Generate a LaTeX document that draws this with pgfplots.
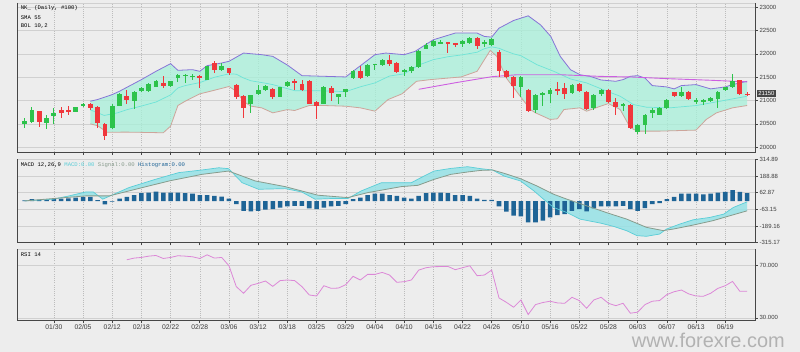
\documentclass[border=0pt]{standalone}
\usepackage{fontspec}
\setmainfont{Liberation Sans}
\newfontfamily\monofont{Liberation Mono}
\usepackage{pgfplots}
\pgfplotsset{compat=1.18}
\usepackage{pgfplotstable}
\usepgfplotslibrary{fillbetween}

\definecolor{bgc}{RGB}{237,237,237}
\definecolor{gridc}{RGB}{208,208,208}
\definecolor{vgridc}{RGB}{188,188,188}
\definecolor{axc}{RGB}{70,70,70}
\definecolor{cgreen}{RGB}{45,195,75}
\definecolor{cred}{RGB}{240,55,60}
\definecolor{bandfill}{RGB}{167,241,217}
\definecolor{upc}{RGB}{135,115,215}
\definecolor{loc}{RGB}{205,165,155}
\definecolor{midc}{RGB}{110,228,215}
\definecolor{smac}{RGB}{205,95,225}
\definecolor{macdc}{RGB}{90,205,215}
\definecolor{macdfill}{RGB}{150,226,230}
\definecolor{sigc}{RGB}{135,155,140}
\definecolor{histc}{RGB}{30,100,150}
\definecolor{rsic}{RGB}{220,135,215}
\definecolor{lblc}{RGB}{60,60,60}
\definecolor{wmc}{RGB}{178,178,178}

\pgfplotstableread{
i o h l c
0 20500 20615 20415 20570
1 20536 20864 20522 20793
3 20515 20700 20380 20615
4 20665 20843 20487 20736
7 20750 20860 20745 20857
8 20878 20940 20870 20935
12 20416 20915 20400 20893
13 20893 21163 20880 21142
15 21000 21200 20820 21185
16 21200 21290 21180 21270
17 21200 21370 21190 21356
18 21290 21430 21280 21412
20 21306 21425 21300 21412
21 21483 21576 21400 21555
22 21520 21576 21380 21555
23 21505 21576 21450 21533
25 21448 21747 21430 21733
27 21647 21804 21626 21733
31 20936 21128 20736 21128
32 21150 21341 21128 21220
33 21228 21340 21200 21320
35 21085 21290 21080 21285
36 21320 21410 21300 21391
41 20935 21320 20915 21292
43 21085 21150 20935 21142
44 21178 21250 21085 21242
45 21483 21661 21462 21626
47 21519 21783 21500 21761
48 21761 21790 21661 21783
49 21761 21890 21747 21868
52 21604 21676 21533 21661
53 21626 21733 21600 21711
54 21711 22075 21697 22053
55 22110 22238 22100 22181
56 22160 22300 22140 22270
57 22224 22300 22210 22252
60 22217 22300 22150 22280
61 22238 22360 22220 22340
63 22230 22300 22150 22250
64 22180 22340 22160 22324
68 21285 21520 21085 21505
70 20807 21142 20736 21127
71 21135 21177 20878 21163
72 21149 21270 20949 21234
75 21163 21362 21149 21341
78 20843 21142 20807 21127
79 21149 21249 21092 21220
82 20892 20950 20786 20928
84 20330 20487 20273 20465
85 20465 20714 20273 20700
86 20736 20843 20629 20786
87 20700 20864 20679 20843
88 20843 21042 20821 21021
90 21092 21291 21078 21177
92 20985 21056 20928 21006
93 20978 21042 20914 21006
94 20985 21070 20964 21056
95 21042 21199 20843 21184
96 21234 21291 21213 21284
97 21291 21576 21270 21412
}\greentab

\pgfplotstableread{
i o h l c
2 20771 20780 20430 20536
5 20786 20864 20615 20736
6 20793 20878 20680 20757
9 20928 20950 20800 20843
10 20864 20893 20416 20508
11 20500 20522 20160 20250
14 21092 21220 20920 21021
19 21377 21520 21270 21306
24 21533 21540 21270 21483
26 21804 21854 21590 21661
28 21690 21700 21548 21590
29 21341 21363 21043 21078
30 21107 21128 20630 20843
34 21249 21263 21035 21071
37 21420 21462 21220 21377
38 21363 21448 21200 21220
39 21412 21448 20915 20935
40 20963 21000 20600 20893
42 21270 21320 21000 21163
46 21626 21733 21462 21483
50 21868 21975 21747 21783
51 21804 21818 21590 21604
58 22250 22260 22010 22230
59 22238 22240 22150 22188
62 22338 22360 22100 22160
65 22046 22080 21500 21640
66 21626 21650 21480 21505
67 21505 21520 21050 21306
69 21234 21248 20757 20771
73 21256 21391 21127 21199
74 21270 21377 21035 21142
76 21362 21377 21177 21199
77 21177 21199 20793 20821
80 21220 21249 20950 20964
81 20971 21056 20700 20864
83 20914 20928 20380 20415
89 21177 21184 21071 21092
91 21177 21199 21021 21035
98 21448 21448 21127 21142
99 21149 21177 21092 21127
}\redtab

\pgfplotstableread{
i v
0 5
1 14
2 9
3 9
4 14
5 19
6 21
7 26
8 31
9 31
10 6
11 -26
12 -4
13 19
14 31
15 44
16 59
17 64
18 72
19 64
20 64
21 64
22 59
23 56
24 44
25 44
26 39
27 34
28 19
29 -24
30 -74
31 -79
32 -74
33 -66
34 -61
35 -49
36 -41
37 -36
38 -36
39 -56
40 -61
41 -49
42 -41
43 -36
44 -24
45 14
46 26
47 44
48 56
49 56
50 44
51 39
52 26
53 19
54 39
55 59
56 64
57 64
58 59
59 44
60 44
61 39
62 19
63 9
64 9
65 -41
66 -81
67 -111
68 -116
69 -161
70 -161
71 -149
72 -124
73 -106
74 -99
75 -74
76 -61
77 -79
78 -56
79 -41
80 -41
81 -41
82 -36
83 -61
84 -74
85 -54
86 -24
87 -16
88 14
89 31
90 56
91 56
92 56
93 51
94 56
95 64
96 69
97 82
98 69
99 59
}\histtab

\pgfplotstableread{
i v
14 74.6
15 75.9
16 76.4
17 77.4
18 77.9
19 75.6
20 76.4
21 77.7
22 77.4
23 76.9
24 75.6
25 78.4
26 75.9
27 76.4
28 70.0
29 54.0
30 48.9
31 55.0
32 56.5
33 58.3
34 54.2
35 58.6
36 59.1
37 58.6
38 54.0
39 47.6
40 46.8
41 54.7
42 52.7
43 52.9
44 55.5
45 61.9
46 59.1
47 63.4
48 63.4
49 64.9
50 62.9
51 57.3
52 57.8
53 59.1
54 66.7
55 68.5
56 69.3
57 69.4
58 69.5
59 67.0
60 68.5
61 70.0
62 62.4
63 62.9
64 66.7
65 45.3
66 42.0
67 38.2
68 43.8
69 32.6
70 40.2
71 41.8
72 42.8
73 41.5
74 41.2
75 45.8
76 43.3
77 37.4
78 43.8
79 45.8
80 41.2
81 39.4
82 41.2
83 33.6
84 34.4
85 40.2
86 42.8
87 43.3
88 47.9
89 50.1
90 51.4
91 48.4
92 46.8
93 46.6
94 48.9
95 52.7
96 54.7
97 58.0
98 50.4
99 50.4
}\rsitab

\pgfplotsset{
  panel/.style={
    scale only axis, width=740bp,
    xmin=-0.95, xmax=100.1,
    anchor=south west,
    axis line style={draw=none},
    scaled y ticks=false,
    xtick={4,8,...,96},
    xticklabels={},
    xmajorgrids, ymajorgrids,
    x grid style={vgridc, dash pattern=on 1bp off 1.2bp, line width=0.45bp},
    y grid style={gridc, line width=0.6bp},
    tick align=outside,
    major tick length=2.8bp,
    xtick pos=left, ytick pos=right,
    tick style={axc, line width=0.6bp},
    yticklabel style={font=\fontsize{6bp}{7bp}\selectfont, text=lblc, inner sep=1bp, xshift=0.5bp},
  },
  wick/.style={only marks, mark=*, mark size=0pt, mark options={draw=none, fill=none},
    error bars/.cd, y dir=both, y explicit, error mark=none,
    error bar style={line width=0.9bp, #1}},
  body/.style={only marks, mark=*, mark size=0pt, mark options={draw=none, fill=none},
    error bars/.cd, y dir=both, y explicit, error mark=none,
    error bar style={line width=4.8bp, #1}},
}

\newcommand{\frameit}[1]{%
  \draw[gridc, line width=0.6bp] (#1.north west) -- (#1.north east);
  \draw[axc, line width=0.7bp] (#1.north west) -- (#1.south west) -- (#1.south east) -- (#1.north east);
}

\begin{document}
\pagecolor{bgc}
\begin{tikzpicture}
\path (0,0) rectangle (800bp,353bp);

% ---------------- main panel ----------------
\begin{axis}[panel, name=main, at={(15bp,200.3bp)}, height=149.7bp,
  ymin=19893, ymax=23090,
  ytick={20000,20500,21000,21500,22000,22500,23000},
  yticklabels={20000,20500,21000,21500,22000,22500,23000},
]
\addplot[name path=up, upc, line width=0.8bp] coordinates {
(9,20985)(10,21021)(12,21127)(13,21199)(16,21448)(18,21626)(20,21790)(21,21647)(23,21661)(24,21626)(25,21747)(27,21804)(28,21840)(30,22017)(32.5,21982)(34,21946)(36,21760)(38,21533)(44,21505)(45,21626)(48,21982)(49.5,22017)(52,21982)(53.5,22053)(56,22302)(59,22445)(62,22445)(63,22373)(64,22359)(65,22550)(67,22715)(69,22815)(70.7,22620)(72.1,22372)(73.4,21944)(74.8,21660)(76.1,21553)(77.5,21517)(79,21440)(81,21412)(82,21448)(83,21519)(84,21533)(85,21483)(86,21320)(88,21291)(89,21249)(90,21320)(92,21341)(94,21249)(96,21291)(97,21341)(99,21412)};
\addplot[name path=lo, loc, line width=0.8bp] coordinates {
(9,20500)(10,20460)(11.3,20320)(14,20323)(19,20309)(20,20451)(21,20893)(22,20985)(24,21142)(26,21220)(28,21300)(29,21199)(30,20980)(31,20880)(32.5,20842)(34,20736)(36,20805)(37,20786)(39,20893)(41,20893)(44,20878)(46,20843)(48,20772)(49.8,21021)(51.7,21142)(53.7,21412)(55.6,21448)(59.8,21505)(62,21626)(63.8,22074)(64.7,21946)(66,21483)(67.9,21092)(69.3,20807)(70,20736)(72,20594)(73,20608)(73.9,20807)(76.1,20843)(77,20771)(78.9,20878)(80,20935)(81.6,20807)(83,20415)(84,20344)(87,20344)(92,20366)(93.4,20594)(94.8,20736)(97,20843)(99,20893)};
\addplot[fill=bandfill, draw=none, fill opacity=0.75] fill between[of=up and lo];
\addplot[midc, line width=0.7bp] coordinates {
(9,20800)(10.9,20680)(12.7,20735)(14,20803)(16,20881)(18,20968)(20,21120)(21,21270)(22,21320)(24,21384)(26,21498)(28,21572)(29,21564)(30,21483)(31,21423)(33,21371)(34,21341)(37,21211)(39,21210)(41,21206)(44,21191)(46,21294)(48,21377)(50,21525)(52,21571)(54,21760)(56,21876)(58,21938)(60,21980)(62,22035)(63,22111)(64,22150)(65,22120)(66,22056)(67,22000)(68,21960)(70.2,21768)(72.5,21626)(74.8,21462)(77,21377)(79.8,21199)(81.6,21092)(83.4,20914)(85.2,20857)(88.4,20843)(92,20892)(95.3,20985)(99,21092)};
\addplot[smac, line width=0.9bp] coordinates {
(54,21240)(59,21380)(64,21510)(67.5,21553)(73.4,21553)(78.9,21517)(83,21505)(88,21469)(94,21434)(99,21400)};
% candles
\addplot[wick=cgreen] table[x=i, y expr=(\thisrow{h}+\thisrow{l})/2, y error expr=(\thisrow{h}-\thisrow{l})/2]{\greentab};
\addplot[body=cgreen] table[x=i, y expr=(\thisrow{o}+\thisrow{c})/2, y error expr=abs(\thisrow{c}-\thisrow{o})/2]{\greentab};
\addplot[wick=cred] table[x=i, y expr=(\thisrow{h}+\thisrow{l})/2, y error expr=(\thisrow{h}-\thisrow{l})/2]{\redtab};
\addplot[body=cred] table[x=i, y expr=(\thisrow{o}+\thisrow{c})/2, y error expr=abs(\thisrow{c}-\thisrow{o})/2]{\redtab};
\coordinate (lp) at (axis cs:100.1,21150);
\end{axis}
\frameit{main}
\node[fill=axc, text=white, font=\fontsize{6bp}{7bp}\selectfont, inner xsep=1.5bp, inner ysep=1.5bp, anchor=west] at ([xshift=1.5bp]lp) {21150};
\node[anchor=west, font=\monofont\fontsize{5.6bp}{6bp}\selectfont, inner sep=0pt] at (18bp,344.7bp) {NK\_ (Daily, \#100)};
\node[anchor=west, font=\monofont\fontsize{5.6bp}{6bp}\selectfont, inner sep=0pt] at (18bp,335.5bp) {SMA 55};
\node[anchor=west, font=\monofont\fontsize{5.6bp}{6bp}\selectfont, inner sep=0pt] at (18bp,327bp) {BOL 10,2};

% ---------------- MACD panel ----------------
\begin{axis}[panel, name=macd, at={(15bp,109.5bp)}, height=83.5bp,
  ymin=-315.17, ymax=314.89,
  ytick={-315.17,-189.16,-63.15,62.87,188.88,314.89},
  yticklabels={-315.17,-189.16,-63.15,62.87,188.88,314.89},
]
\addplot[name path=macdl, draw=none] coordinates {
(0,1)(3.9,14)(6.1,39)(8.4,69)(9.4,69)(10.7,14)(14.3,102)(17.9,164)(21.1,215)(24.3,235)(26.6,252)(27.95,245)(29.8,139)(32.05,89)(35.7,94)(37.95,69)(39.8,14)(42.05,19)(44.3,19)(46.1,76)(48.9,139)(51.6,139)(53,139)(54.3,177)(56.1,227)(58.4,247)(60.7,260)(62.5,245)(64.1,235)(65.7,189)(67.95,152)(69.8,76)(71.1,14)(72.5,-49)(74.3,-87)(76.1,-137)(78.9,-167)(80.7,-192)(82.5,-225)(83.9,-262)(85.2,-267)(87,-250)(87.95,-212)(89.8,-174)(91.6,-142)(93.9,-124)(95.8,-99)(97.1,-49)(99,-6)};
\addplot[name path=sigl, draw=none] coordinates {
(0,1)(8.4,39)(11.6,39)(15.2,89)(19.8,152)(24.3,202)(27.95,227)(31.6,152)(35.7,109)(40.2,44)(44.3,26)(47.05,64)(51.6,109)(53.9,119)(56.1,164)(58.4,202)(60.7,220)(62.5,232)(64.1,235)(65.7,210)(67.95,169)(70.2,114)(72.5,51)(74.3,14)(77,-36)(79.7,-87)(82.5,-137)(85.2,-199)(87.5,-224)(88.9,-212)(91.6,-182)(94.3,-149)(96.6,-112)(99,-74)};
\addplot[fill=macdfill, draw=none, fill opacity=0.85] fill between[of=macdl and sigl];
\addplot[ybar, bar width=0.62, fill=histc, draw=none] table[x=i, y=v]{\histtab};
\addplot[macdc, line width=0.7bp] coordinates {
(0,1)(3.9,14)(6.1,39)(8.4,69)(9.4,69)(10.7,14)(14.3,102)(17.9,164)(21.1,215)(24.3,235)(26.6,252)(27.95,245)(29.8,139)(32.05,89)(35.7,94)(37.95,69)(39.8,14)(42.05,19)(44.3,19)(46.1,76)(48.9,139)(51.6,139)(53,139)(54.3,177)(56.1,227)(58.4,247)(60.7,260)(62.5,245)(64.1,235)(65.7,189)(67.95,152)(69.8,76)(71.1,14)(72.5,-49)(74.3,-87)(76.1,-137)(78.9,-167)(80.7,-192)(82.5,-225)(83.9,-262)(85.2,-267)(87,-250)(87.95,-212)(89.8,-174)(91.6,-142)(93.9,-124)(95.8,-99)(97.1,-49)(99,-6)};
\addplot[sigc, line width=0.8bp] coordinates {
(0,1)(8.4,39)(11.6,39)(15.2,89)(19.8,152)(24.3,202)(27.95,227)(31.6,152)(35.7,109)(40.2,44)(44.3,26)(47.05,64)(51.6,109)(53.9,119)(56.1,164)(58.4,202)(60.7,220)(62.5,232)(64.1,235)(65.7,210)(67.95,169)(70.2,114)(72.5,51)(74.3,14)(77,-36)(79.7,-87)(82.5,-137)(85.2,-199)(87.5,-224)(88.9,-212)(91.6,-182)(94.3,-149)(96.6,-112)(99,-74)};
\end{axis}
\frameit{macd}
\node[anchor=west, font=\monofont\fontsize{5.6bp}{6bp}\selectfont, inner sep=0pt] at (18bp,187.3bp)
  {MACD 12,26,9 \textcolor{macdc}{MACD:0.00} \textcolor{sigc}{Signal:0.00} \textcolor{histc}{Histogram:0.00}};

% ---------------- RSI panel ----------------
\begin{axis}[panel, name=rsi, at={(15bp,31.3bp)}, height=71.7bp,
  ymin=27.94, ymax=82.77,
  ytick={30,70},
  yticklabels={30.000,70.000},
  xticklabels={01/30,02/05,02/12,02/18,02/22,02/28,03/06,03/12,03/18,03/25,03/29,04/04,04/10,04/16,04/22,04/26,05/10,05/16,05/22,05/28,06/03,06/07,06/13,06/19},
  xticklabel style={font=\fontsize{6.8bp}{7bp}\selectfont, text=lblc, inner sep=1bp},
]
\addplot[rsic, line width=0.8bp] table[x=i, y=v]{\rsitab};
\end{axis}
\frameit{rsi}
\node[anchor=west, font=\monofont\fontsize{5.6bp}{6bp}\selectfont, inner sep=0pt] at (18bp,97.3bp) {RSI 14};

\node[font=\fontsize{20bp}{21bp}\selectfont, text=wmc, inner sep=0pt, anchor=base] at (708bp,4.5bp) {www.forexre.com};
\end{tikzpicture}
\end{document}
